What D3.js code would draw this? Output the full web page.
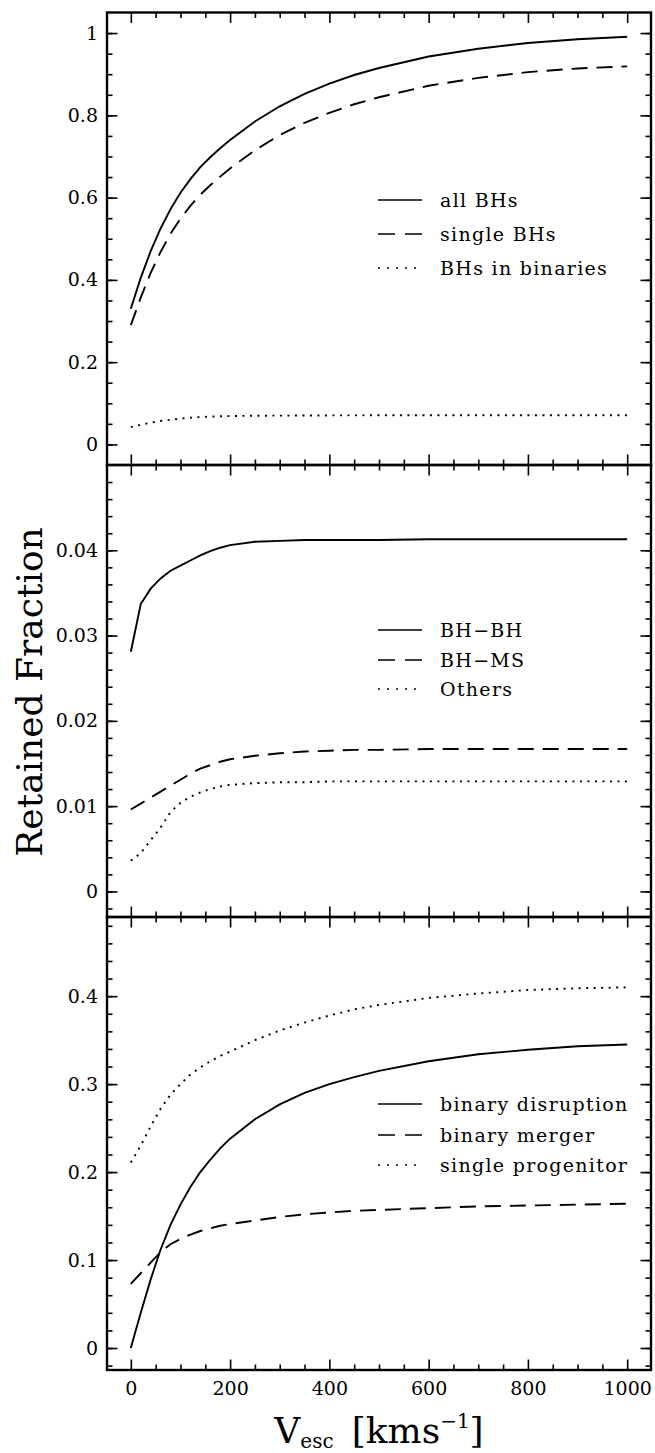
<!DOCTYPE html>
<html>
<head>
<meta charset="utf-8">
<script src="https://cdn.jsdelivr.net/npm/d3@7"></script>
<style>
  html, body { margin: 0; padding: 0; background: #fff; }
  svg { display: block; }
  text { font-family: "DejaVu Serif", serif; fill: #000; }
</style>
</head>
<body>
<svg id="chart" width="655" height="1453"></svg>
<script>
// ---------- data ----------
const vesc = [0, 20, 40, 60, 80, 100, 120, 140, 160, 180, 200, 250, 300, 350, 400, 450, 500, 600, 700, 800, 900, 1000];

// top panel
const allBHs    = [0.330, 0.405, 0.470, 0.525, 0.572, 0.612, 0.645, 0.674, 0.698, 0.720, 0.740, 0.785, 0.822, 0.852, 0.877, 0.898, 0.915, 0.943, 0.962, 0.976, 0.985, 0.991];
const singleBHs = [0.290, 0.357, 0.417, 0.468, 0.512, 0.549, 0.580, 0.607, 0.630, 0.651, 0.671, 0.715, 0.752, 0.782, 0.806, 0.827, 0.844, 0.872, 0.891, 0.905, 0.914, 0.919];
const binaryBHs = [0.042, 0.048, 0.053, 0.057, 0.060, 0.063, 0.065, 0.0665, 0.0675, 0.0685, 0.069, 0.0697, 0.070, 0.0703, 0.0705, 0.0707, 0.0708, 0.071, 0.071, 0.071, 0.071, 0.071];

// middle panel
const bhbh   = [0.0281, 0.0337, 0.0355, 0.0367, 0.0376, 0.0382, 0.0388, 0.0394, 0.0399, 0.0403, 0.0406, 0.0410, 0.0411, 0.0412, 0.0412, 0.0412, 0.0412, 0.0413, 0.0413, 0.0413, 0.0413, 0.0413];
const bhms   = [0.0096, 0.0103, 0.0110, 0.0117, 0.0124, 0.0131, 0.0138, 0.0144, 0.0148, 0.0152, 0.0155, 0.0159, 0.0162, 0.0164, 0.0165, 0.0166, 0.0166, 0.0167, 0.0167, 0.0167, 0.0167, 0.0167];
const others = [0.0036, 0.0045, 0.0060, 0.0075, 0.0093, 0.0104, 0.0111, 0.0116, 0.0120, 0.0123, 0.0125, 0.0127, 0.0128, 0.0128, 0.0129, 0.0129, 0.0129, 0.0129, 0.0129, 0.0129, 0.0129, 0.0129];

// bottom panel
const disruption = [0.000, 0.040, 0.078, 0.112, 0.140, 0.163, 0.183, 0.200, 0.214, 0.227, 0.238, 0.260, 0.277, 0.290, 0.300, 0.308, 0.315, 0.326, 0.334, 0.339, 0.343, 0.345];
const merger     = [0.073, 0.085, 0.097, 0.109, 0.118, 0.124, 0.129, 0.133, 0.136, 0.139, 0.141, 0.145, 0.149, 0.152, 0.154, 0.156, 0.157, 0.159, 0.161, 0.162, 0.163, 0.164];
const singleProg = [0.211, 0.230, 0.252, 0.272, 0.288, 0.300, 0.311, 0.319, 0.326, 0.332, 0.337, 0.350, 0.361, 0.370, 0.378, 0.385, 0.390, 0.398, 0.403, 0.407, 0.409, 0.410];

const legendTop = ["all BHs", "single BHs", "BHs in binaries"];
const legendMid = ["BH\u2212BH", "BH\u2212MS", "Others"];
const legendBot = ["binary disruption", "binary merger", "single progenitor"];

const xMajorTicks = [0, 200, 400, 600, 800, 1000];
const xTickLabels = ["0", "200", "400", "600", "800", "1000"];

const topMajor = [0, 0.2, 0.4, 0.6, 0.8, 1];
const topLabels = ["0", "0.2", "0.4", "0.6", "0.8", "1"];
const midMajor = [0, 0.01, 0.02, 0.03, 0.04];
const midLabels = ["0", "0.01", "0.02", "0.03", "0.04"];
const botMajor = [0, 0.1, 0.2, 0.3, 0.4];
const botLabels = ["0", "0.1", "0.2", "0.3", "0.4"];

const yLabel = "Retained Fraction";

// ---------- layout ----------
const left = 107, right = 651;
const svg = d3.select("#chart");
const x = d3.scaleLinear().domain([-48, 1048]).range([left, right]);

const styles = [
  { dash: null },
  { dash: "16,9" },
  { dash: "2,5.5" }
];

function range(a, b, step) {
  const out = [];
  for (let v = a; v <= b + step * 1e-6; v += step) out.push(+v.toFixed(6));
  return out;
}

const panels = [
  { top: 12.5, bottom: 465, domain: [-0.05, 1.05], major: topMajor, labels: topLabels,
    minor: range(-0.05, 1.05, 0.05).filter(v => v > -0.049 && v < 1.049),
    series: [allBHs, singleBHs, binaryBHs], legend: legendTop, legendY: [200, 234, 268] },
  { top: 465, bottom: 917, domain: [-0.003, 0.05], major: midMajor, labels: midLabels,
    minor: range(-0.002, 0.048, 0.002),
    series: [bhbh, bhms, others], legend: legendMid, legendY: [630, 660, 689] },
  { top: 917, bottom: 1370, domain: [-0.025, 0.49], major: botMajor, labels: botLabels,
    minor: range(-0.02, 0.48, 0.02),
    series: [disruption, merger, singleProg], legend: legendBot, legendY: [1104, 1135, 1165] }
];

const xMinor = range(50, 1000, 50).filter(v => v % 200 !== 0);

panels.forEach((p, pi) => {
  const y = d3.scaleLinear().domain(p.domain).range([p.bottom, p.top]);
  const g = svg.append("g");

  // y axes left (with labels) and right
  const lMaj = d3.axisLeft(y).tickValues(p.major)
    .tickFormat((d, i) => p.labels[i]).tickSizeInner(-10.5).tickSizeOuter(0).tickPadding(9);
  const lMin = d3.axisLeft(y).tickValues(p.minor).tickFormat("").tickSizeInner(-5.5).tickSizeOuter(0);
  const rMaj = d3.axisRight(y).tickValues(p.major).tickFormat("").tickSizeInner(-10.5).tickSizeOuter(0);
  const rMin = d3.axisRight(y).tickValues(p.minor).tickFormat("").tickSizeInner(-5.5).tickSizeOuter(0);

  [[lMaj, left], [lMin, left], [rMaj, right], [rMin, right]].forEach(([ax, tx]) => {
    const a = g.append("g").attr("transform", `translate(${tx},0)`).call(ax);
    a.select(".domain").remove();
    a.selectAll("line").attr("stroke", "#000").attr("stroke-width", 1.6);
    a.selectAll("text").style("font-family", '"DejaVu Serif", serif').style("font-size", "19px");
  });

  // x axes top and bottom
  const bMaj = d3.axisBottom(x).tickValues(xMajorTicks)
    .tickFormat((d, i) => pi === 2 ? xTickLabels[i] : "").tickSizeInner(-10.5).tickSizeOuter(0).tickPadding(12);
  const bMin = d3.axisBottom(x).tickValues(xMinor).tickFormat("").tickSizeInner(-5.5).tickSizeOuter(0);
  const tMaj = d3.axisTop(x).tickValues(xMajorTicks).tickFormat("").tickSizeInner(-10.5).tickSizeOuter(0);
  const tMin = d3.axisTop(x).tickValues(xMinor).tickFormat("").tickSizeInner(-5.5).tickSizeOuter(0);
  [[bMaj, p.bottom], [bMin, p.bottom], [tMaj, p.top], [tMin, p.top]].forEach(([ax, ty]) => {
    const a = g.append("g").attr("transform", `translate(0,${ty})`).call(ax);
    a.select(".domain").remove();
    a.selectAll("line").attr("stroke", "#000").attr("stroke-width", 1.6);
    a.selectAll("text").style("font-family", '"DejaVu Serif", serif').style("font-size", "19px");
  });

  // frame
  g.append("rect").attr("x", left).attr("y", p.top)
    .attr("width", right - left).attr("height", p.bottom - p.top)
    .attr("fill", "none").attr("stroke", "#000").attr("stroke-width", 2.4);

  // curves
  const line = d3.line().x((d, i) => x(vesc[i])).y(d => y(d));
  p.series.forEach((s, si) => {
    g.append("path").datum(s).attr("d", line)
      .attr("fill", "none").attr("stroke", "#000").attr("stroke-width", 1.9)
      .attr("stroke-dasharray", styles[si].dash);
  });

  // legend
  p.legend.forEach((lab, li) => {
    const ly = p.legendY[li];
    g.append("line").attr("x1", 378).attr("x2", 422).attr("y1", ly).attr("y2", ly)
      .attr("stroke", "#000").attr("stroke-width", 1.6)
      .attr("stroke-dasharray", li === 1 ? "17,10" : (li === 2 ? "2,7" : null));
    g.append("text").attr("x", 440).attr("y", ly + 6.5)
      .style("font-size", "19px").style("letter-spacing", "1.3px").text(lab);
  });
});

// y-axis title
svg.append("text")
  .attr("transform", "translate(42,692) rotate(-90)")
  .attr("text-anchor", "middle")
  .style("font-size", "36px")
  .text(yLabel);

// x-axis title
const xt = svg.append("text").attr("x", 379).attr("y", 1443).attr("text-anchor", "middle").style("font-size", "36px");
xt.append("tspan").text("V");
xt.append("tspan").attr("dy", 5).style("font-size", "20px").text("esc");
xt.append("tspan").attr("dy", -5).text("\u2002[kms");
xt.append("tspan").attr("dy", -15).style("font-size", "20px").text("\u22121");
xt.append("tspan").attr("dy", 15).text("]");
</script>
</body>
</html>
